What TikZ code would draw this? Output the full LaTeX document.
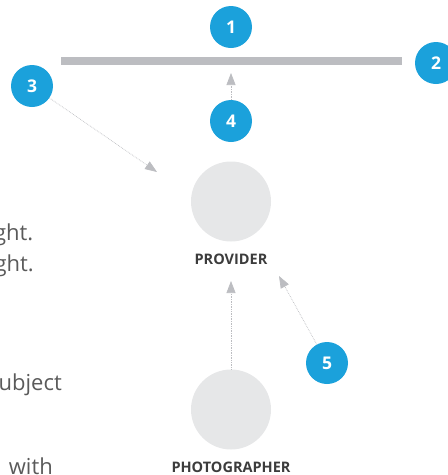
\documentclass[tikz,border=0pt]{standalone}
\usepackage{fontspec}
\setmainfont{Open Sans}
\usetikzlibrary{arrows.meta}
\definecolor{badgeblue}{HTML}{1BA1DB}
\definecolor{bargray}{HTML}{BCBDC1}
\definecolor{diskgray}{HTML}{E6E7E8}
\definecolor{lblgray}{HTML}{3C3C3C}
\definecolor{bodygray}{HTML}{5A5A5A}
\definecolor{arrowgray}{HTML}{BCBDC1}
\begin{document}
\begin{tikzpicture}[x=1pt,y=-1pt,
  badge/.style={circle,fill=badgeblue,minimum size=42pt,inner sep=0pt,text=white,font=\bfseries\fontsize{17.5}{17.5}\selectfont},
  disk/.style={circle,fill=diskgray,minimum size=80pt,inner sep=0pt},
  lbl/.style={text=lblgray,font=\bfseries\fontsize{14.5}{15}\selectfont,inner sep=0pt},
  bodytext/.style={text=bodygray,font=\fontsize{22}{30}\selectfont,inner sep=0pt,anchor=base east},
  bar/.style={draw=bargray,line width=8pt},
  conn/.style={draw=arrowgray,densely dotted,line width=0.7pt,-{Triangle[length=12pt,width=9pt,fill=arrowgray]}}]
\useasboundingbox (0,0) rectangle (448,475);
% left-hand cut-off text
\node[bodytext] (t1) at (33.5,240) {ght.};
\node[bodytext] (t2) at (34,271) {ght.};
\node[bodytext] (t3) at (62,390) {ubject};
\node[bodytext] (t4) at (53,474) {with};
% bar
\coordinate (barL) at (61,60.5);
\coordinate (barR) at (402,60.5);
\draw[bar] (barL) -- (barR);
% disks
\node[disk] (prov) at (231,201.5) {};
\node[lbl,anchor=base] (provl) at (231,264.5) {PROVIDER};
\node[disk] (phot) at (231,409.5) {};
\node[lbl,anchor=base] (photl) at (231,472.5) {PHOTOGRAPHER};
% badges
\node[badge] (n1) at (231,27) {1};
\node[badge] (n2) at (436,63) {2};
\node[badge] (n3) at (32,86) {3};
\node[badge] (n4) at (231,121) {4};
\node[badge] (n5) at (327,363) {5};
% arrow targets
\coordinate (tipBar) at (231,73);
\coordinate (tip3) at (157,172);
\coordinate (tipProv) at (231,281);
\coordinate (tip5) at (279,276);
% connectors
\draw[conn] (n4) -- (tipBar);
\draw[conn] (n3) -- (tip3);
\draw[conn] (phot) -- (tipProv);
\draw[conn] (n5) -- (tip5);
\end{tikzpicture}
\end{document}
